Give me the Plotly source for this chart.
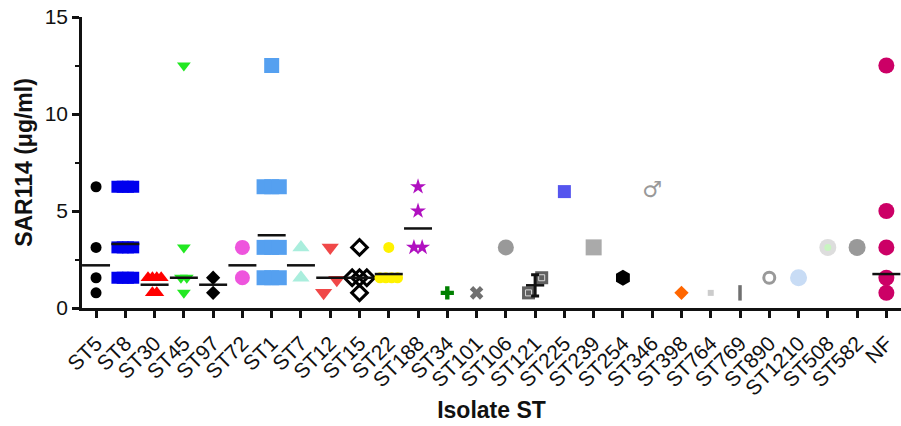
import plotly.graph_objects as go

categories = ["ST5", "ST8", "ST30", "ST45", "ST97", "ST72", "ST1", "ST7", "ST12", "ST15",
              "ST22", "ST188", "ST34", "ST101", "ST106", "ST121", "ST225", "ST239", "ST254",
              "ST346", "ST398", "ST764", "ST769", "ST890", "ST1210", "ST508", "ST582", "NF"]

values = [
    [6.25, 3.125, 1.56, 0.78],                                                  # ST5
    [6.25, 6.25, 6.25, 6.25, 3.125, 3.125, 3.125, 3.125, 1.56, 1.56, 1.56, 1.56],  # ST8
    [1.56, 1.56, 1.56, 1.56, 0.78, 0.78],                                       # ST30
    [12.5, 3.125, 1.56, 1.56, 0.78],                                            # ST45
    [1.56, 0.78],                                                               # ST97
    [3.125, 1.56],                                                              # ST72
    [12.5, 6.25, 6.25, 6.25, 3.125, 3.125, 3.125, 1.56, 1.56, 1.56],            # ST1
    [3.125, 1.56],                                                              # ST7
    [3.125, 1.45, 0.78],                                                        # ST12
    [3.125, 1.56, 1.56, 1.56, 0.78],                                            # ST15
    [3.125, 1.56, 1.56, 1.56, 1.56],                                            # ST22
    [6.25, 5.0, 3.125, 3.125],                                                  # ST188
    [0.78],                                                                     # ST34
    [0.78],                                                                     # ST101
    [3.125],                                                                    # ST106
    [1.56, 0.78],                                                               # ST121
    [6.0],                                                                      # ST225
    [3.125],                                                                    # ST239
    [1.56],                                                                     # ST254
    [6.0],                                                                      # ST346
    [0.78],                                                                     # ST398
    [0.78],                                                                     # ST764
    [0.78],                                                                     # ST769
    [1.56],                                                                     # ST890
    [1.56],                                                                     # ST1210
    [3.125],                                                                    # ST508
    [3.125],                                                                    # ST582
    [12.5, 5.0, 3.125, 1.56, 0.78],                                             # NF
]

center_lines = [2.2, 3.3, 1.2, 1.56, 1.2, 2.2, 3.75, 2.2, 1.56, 1.56, 1.75, 4.1,
                None, None, None, 1.17, None, None, None, None, None, None, None,
                None, None, None, None, 1.75]

sd_values = [None] * 15 + [0.55] + [None] * 12

y_ticks = [0, 5, 10, 15]

# ---- styles -------------------------------------------------------------
symbols = ["circle", "square", "triangle-up", "triangle-down", "diamond", "circle",
           "square", "triangle-up", "triangle-down", "diamond-open", "circle", "star",
           "cross", "x", "circle", "square", "square", "square", "hexagon",
           "text", "diamond", "square", "line-ns", "circle-open", "circle",
           "circle", "circle", "circle"]
colors = ["#000000", "#0000EE", "#FF0000", "#22E822", "#000000", "#EE55DD",
          "#55A0F0", "#AAEEDD", "#F04848", "#000000", "#FFF200", "#B010C0",
          "#008000", "#707070", "#999999", "#606060", "#5555EE", "#AAAAAA",
          "#000000", "#999999", "#FF6600", "#CCCCCC", "#707070", "#999999",
          "#C8DCF5", "#DDDDDD", "#999999", "#CC0066"]
sizes = [11, 12, 13, 12, 11, 15, 15, 15, 15, 12, 11, 12, 11, 12, 16, 13, 13, 16,
         16, 22, 11, 6, 11, 11, 17, 17, 17, 16]
spreads = [0.2, 0.18, 0.15, 0.2, 0.2, 0.2, 0.26, 0.2, 0.45, 0.25, 0.2, 0.28,
           0.2, 0.2, 0.2, 0.45, 0.2, 0.2, 0.2, 0.2, 0.2, 0.2, 0.2, 0.2, 0.2, 0.2, 0.2, 0.2]
# how close (in marker sizes) two points must be vertically to be dodged
collide = [0.3] * 28
collide[8] = 1.2   # ST12
collide[15] = 1.2  # ST121

PX_PER_UNIT = 291 / 15.0
FONT = "Liberation Sans"


def dodge(vals, size, step, cf):
    """Cluster points that overlap vertically; spread each cluster symmetrically."""
    order = sorted(range(len(vals)), key=lambda k: vals[k])
    clusters = []
    for k in order:
        if clusters and abs(vals[k] - vals[clusters[-1][-1]]) * PX_PER_UNIT < cf * size:
            clusters[-1].append(k)
        else:
            clusters.append([k])
    offs = [0.0] * len(vals)
    for cl in clusters:
        n = len(cl)
        for p, k in enumerate(cl):
            offs[k] = (p - (n - 1) / 2) * step
    return offs


fig = go.Figure()

for i, (cat, vals) in enumerate(zip(categories, values)):
    offs = dodge(vals, sizes[i], spreads[i], collide[i])
    xs = [i + o for o in offs]
    sym = symbols[i]
    if sym == "text":
        fig.add_trace(go.Scatter(
            x=xs, y=vals, mode="text", text=["♂"] * len(vals),
            textfont=dict(family="DejaVu Sans", size=sizes[i], color=colors[i]),
            textposition="middle center", cliponaxis=False, showlegend=False))
        continue
    line = dict(width=0, color=colors[i])
    if sym.endswith("-open"):
        line = dict(width=3, color=colors[i])
    elif sym == "line-ns":
        line = dict(width=3.5, color=colors[i])
    fig.add_trace(go.Scatter(
        x=xs, y=vals, mode="markers",
        marker=dict(symbol=sym, size=sizes[i], color=colors[i], line=line),
        cliponaxis=False, showlegend=False))
    # inner detail for a few symbol styles
    if i == 15:  # ST121: dark square with a light inner square
        fig.add_trace(go.Scatter(
            x=xs, y=vals, mode="markers",
            marker=dict(symbol="square-open", size=6, color="#D8D8D8",
                        line=dict(width=1, color="#D8D8D8")),
            cliponaxis=False, showlegend=False))
    if i == 25:  # ST508: pale green centre
        fig.add_trace(go.Scatter(
            x=xs, y=vals, mode="markers",
            marker=dict(symbol="circle", size=7, color="#C8F5C0"),
            cliponaxis=False, showlegend=False))

# central tendency lines
for i, c in enumerate(center_lines):
    if c is None:
        continue
    sd = sd_values[i]
    fig.add_trace(go.Scatter(
        x=[i], y=[c], mode="markers",
        marker=dict(symbol="line-ew", size=13 if sd else 20,
                    line=dict(width=2.5, color="#111111")),
        error_y=dict(type="data", array=[sd], visible=True, color="#111111",
                     thickness=3, width=4) if sd else None,
        cliponaxis=False, showlegend=False))

fig.update_layout(
    width=901, height=426,
    margin=dict(l=82, r=0, t=17, b=118, autoexpand=False),
    paper_bgcolor="white", plot_bgcolor="white",
    font=dict(family=FONT, color="#111111"),
)

fig.update_xaxes(
    range=[-0.48, 27.5], automargin=False,
    tickmode="array", tickvals=list(range(len(categories))), ticktext=categories,
    tickangle=-45, tickfont=dict(family=FONT, size=21, color="#111111"),
    ticklabelstandoff=5,
    ticks="outside", ticklen=7, tickwidth=2.5, tickcolor="#111111",
    showline=True, linewidth=2.5, linecolor="#111111",
    showgrid=False, zeroline=False,
    title=dict(text="Isolate ST", font=dict(family=FONT, size=23, weight="bold",
                                            color="#111111"), standoff=4),
)

fig.update_yaxes(
    range=[0, 15], automargin=False,
    tickmode="array", tickvals=y_ticks, ticktext=[str(t) for t in y_ticks],
    tickfont=dict(family=FONT, size=21, color="#111111"),
    ticks="outside", ticklen=7, tickwidth=2.5, tickcolor="#111111",
    minor=dict(tickmode="linear", tick0=2.5, dtick=5, ticks="outside",
               ticklen=4, tickwidth=2, tickcolor="#111111"),
    showline=True, linewidth=2.5, linecolor="#111111",
    showgrid=False, zeroline=False,
    title=dict(text="SAR114 (μg/ml)", font=dict(family=FONT, size=23, weight="bold",
                                                 color="#111111"), standoff=6),
)

fig.write_html("out.html", config={"displayModeBar": False},
               post_script="document.body.style.margin='0';document.body.style.overflow='hidden';")
